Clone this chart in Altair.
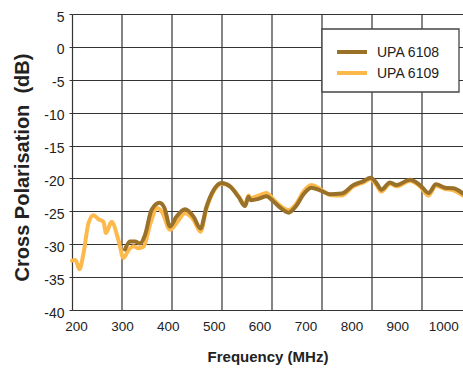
import altair as alt
import pandas as pd

# ---- data ----
freq_6109 = [200, 207, 215, 223, 233, 243, 253, 263, 268, 279, 293, 303, 313, 323, 333, 343,
             357, 370, 380, 396, 409, 426, 443, 457, 469, 483, 499, 516, 533, 546, 553, 557,
             573, 589, 603, 619, 633, 649, 663, 679, 696, 716, 739, 763, 783, 797, 809, 819,
             836, 849, 876, 896, 913, 928, 946, 963, 982]
db_6109 = [-32.5, -32.4, -33.8, -31.4, -26.8, -25.6, -26.2, -26.6, -28.3, -26.6, -29.4, -32.1,
           -30.9, -30.3, -30.6, -30.4, -26.8, -24.5, -25.1, -27.8, -26.8, -25.3, -26.3, -28.1,
           -24.6, -22.0, -20.8, -21.2, -22.7, -24.0, -22.6, -23.0, -22.6, -22.2, -23.2, -24.3,
           -24.8, -23.8, -22.0, -21.0, -21.6, -22.5, -22.6, -21.2, -20.6, -20.1, -21.0, -22.0,
           -20.8, -21.2, -20.4, -21.2, -22.6, -21.1, -21.6, -21.8, -22.6]

freq_6108 = [306, 316, 326, 336, 346, 359, 375, 385, 396, 409, 426, 443, 457, 469, 483, 499,
             516, 533, 546, 553, 557, 573, 589, 603, 619, 633, 649, 663, 679, 696, 716, 739,
             763, 783, 797, 809, 819, 836, 849, 876, 896, 913, 928, 946, 963, 982]
db_6108 = [-30.8, -29.6, -29.6, -29.9, -28.6, -24.8, -23.7, -24.5, -27.3, -25.8, -24.7, -25.8,
           -27.6, -24.3, -21.8, -20.7, -21.2, -22.8, -24.2, -22.8, -23.3, -23.1, -22.7, -23.5,
           -24.6, -25.2, -24.1, -22.4, -21.4, -21.8, -22.4, -22.3, -21.0, -20.4, -19.9, -20.7,
           -21.7, -20.6, -21.0, -20.2, -21.0, -22.2, -20.9, -21.4, -21.5, -22.3]

series_names = ["UPA 6108", "UPA 6109"]
series_colors = ["#9A7129", "#FDB94B"]

y_ticks = [-40, -35, -30, -25, -20, -15, -10, -5, 0, 5]
x_grid = [300, 400, 500, 600, 700, 800, 900]
x_tick_labels = [200, 300, 400, 500, 600, 700, 800, 900, 1000]

FONT = "Liberation Sans"
GRID = "#333333"

df_6108 = pd.DataFrame({"f": freq_6108, "db": db_6108, "series": series_names[0]})
df_6109 = pd.DataFrame({"f": freq_6109, "db": db_6109, "series": series_names[1]})
df_grid = pd.DataFrame({"f": x_grid})

# tick labels are printed slightly off the grid in the original artwork
label_pos = [208 + (v - 200) * 0.918 for v in x_tick_labels]

x_axis = alt.Axis(
    values=label_pos,
    labelExpr="format(round(((datum.value - 208) / 0.918 + 200) / 100) * 100, 'd')",
    grid=False, ticks=False, domain=True, domainColor=GRID, domainWidth=1.2,
    labelFont=FONT, labelFontSize=13.5, labelColor="#222222", labelPadding=9,
    title="Frequency (MHz)", titleFont=FONT, titleFontSize=15, titleFontWeight="bold",
    titleColor="#222222", titleY=46, titleBaseline="middle",
)
y_axis = alt.Axis(
    values=y_ticks, labelExpr="'' + datum.value",
    grid=True, gridColor=GRID, gridWidth=1.2, gridOpacity=1,
    ticks=True, tickSize=3, tickColor=GRID, domain=True, domainColor=GRID, domainWidth=1.2,
    labelFont=FONT, labelFontSize=14, labelColor="#222222", labelPadding=5, labelOffset=3,
    title="Cross Polarisation\u00a0 (dB)", titleFont=FONT, titleFontSize=20,
    titleFontWeight="bold", titleColor="#222222", titleX=-50, titleY=153,
    titleBaseline="middle",
)

x_scale = alt.Scale(domain=[200, 982], nice=False, zero=False)
y_scale = alt.Scale(domain=[-40, 5], nice=False, zero=False)

x_enc = alt.X("f:Q", scale=x_scale, axis=x_axis)

grid = alt.Chart(df_grid).mark_rule(color=GRID, strokeWidth=1.2).encode(x=x_enc)

line_6109 = alt.Chart(df_6109).mark_line(
    color=series_colors[1], strokeWidth=4, interpolate="monotone", strokeCap="round"
).encode(x=x_enc, y=alt.Y("db:Q", scale=y_scale, axis=y_axis))

line_6108 = alt.Chart(df_6108).mark_line(
    color=series_colors[0], strokeWidth=4, interpolate="monotone", strokeCap="round"
).encode(x=x_enc, y=alt.Y("db:Q", scale=y_scale, axis=y_axis))

# ---- legend box (drawn as marks) ----
one = pd.DataFrame({"k": [0]})
legend_box = alt.Chart(one).mark_rect(
    fill="white", stroke="#444444", strokeWidth=1.3
).encode(x=alt.value(250), x2=alt.value(387), y=alt.value(15), y2=alt.value(78))

legend_layers = []
for i, (name, col) in enumerate(zip(series_names, series_colors)):
    yy = 38 + i * 21
    legend_layers.append(
        alt.Chart(one).mark_rule(color=col, strokeWidth=4).encode(
            x=alt.value(265), x2=alt.value(295), y=alt.value(yy)
        )
    )
    legend_layers.append(
        alt.Chart(one).mark_text(
            text=name, font=FONT, fontSize=14, color="#222222", align="left", baseline="middle"
        ).encode(x=alt.value(305), y=alt.value(yy + 1))
    )

chart = alt.layer(grid, line_6109, line_6108, legend_box, *legend_layers).properties(
    width=391, height=296,
    padding={"left": 72, "top": 14, "right": 0, "bottom": 59},
    autosize=alt.AutoSizeParams(type="none"),
    background="white",
).configure_view(stroke=None)

chart.save("out.html", embed_options={"renderer": "svg", "actions": False})
